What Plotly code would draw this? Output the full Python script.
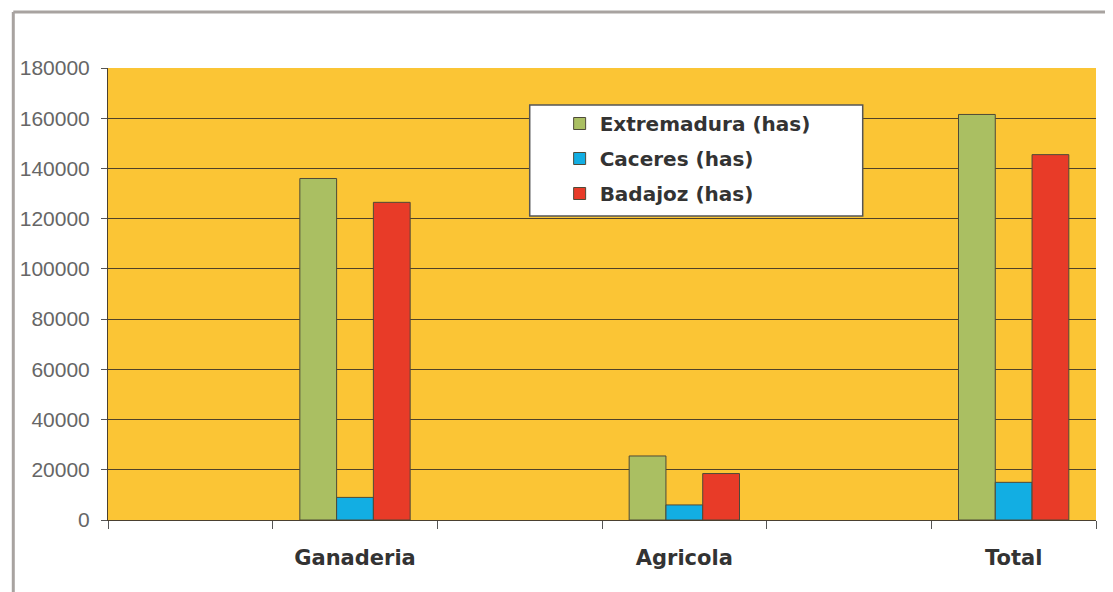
import plotly.graph_objects as go

categories = ["Ganaderia", "Agricola", "Total"]
series_names = ["Extremadura (has)", "Caceres (has)", "Badajoz (has)"]
extremadura = [136000, 25500, 161500]
caceres = [9000, 6000, 15000]
badajoz = [126500, 18500, 145500]
y_ticks = [0, 20000, 40000, 60000, 80000, 100000, 120000, 140000, 160000, 180000]

colors = ["#AABF62", "#12AEE3", "#E83B28"]

# the original chart has empty category slots before each labelled group
x_slots = []
for i, c in enumerate(categories):
    x_slots.append(" " * (i + 1))
    x_slots.append(c)


def expand(vals):
    out = []
    for v in vals:
        out.append(None)
        out.append(v)
    return out


fig = go.Figure()
for name, vals, col in zip(series_names, [extremadura, caceres, badajoz], colors):
    fig.add_trace(go.Bar(
        x=x_slots, y=expand(vals), name=name, legendgroup=name,
        marker=dict(color=col, line=dict(color="#4E4A38", width=1)),
    ))

# page offset of the body margin (8px) is compensated here
OFF = 8
PW, PH = 1113, 592          # page size
L, R, T, B = 105, 17, 68, 72  # page coords of plot area margins
W, H = PW - OFF, PH - OFF
l, t = L - OFF, T - OFF
pw, ph = PW - L - R, PH - T - B


def px(x):
    return (x - L) / pw


def py(y):
    return (PH - B - y) / ph


fig.update_layout(
    width=W, height=H,
    margin=dict(l=l, r=R, t=t, b=B),
    paper_bgcolor="white",
    plot_bgcolor="#FBC535",
    barmode="group",
    bargap=0.33,
    bargroupgap=0,
    showlegend=True,
    legend=dict(
        x=px(558), y=py(104), xanchor="left", yanchor="top",
        bgcolor="rgba(0,0,0,0)", borderwidth=0,
        font=dict(family="DejaVu Sans", size=20, color="#333333", weight="bold"),
        tracegroupgap=6,
        itemclick=False,
    ),
    xaxis=dict(
        type="category",
        tickson="boundaries",
        ticks="outside", ticklen=8, tickcolor="#555555",
        showline=True, linecolor="#4A4030", linewidth=1,
        showgrid=False,
        tickfont=dict(family="DejaVu Sans", size=21, color="#333333", weight="bold"),
        ticklabelstandoff=19,
    ),
    yaxis=dict(
        range=[0, 180000],
        tickvals=y_ticks,
        ticktext=[str(v) for v in y_ticks],
        ticks="outside", ticklen=6, tickcolor="#555555",
        showline=True, linecolor="#4A4030", linewidth=1,
        showgrid=True, gridcolor="#504228", gridwidth=1,
        zeroline=False,
        tickfont=dict(family="Liberation Sans", size=21, color="#666666"),
        ticklabelstandoff=7,
    ),
    font=dict(family="DejaVu Sans"),
    shapes=[
        dict(type="rect", xref="paper", yref="paper",
             x0=px(528), x1=px(862), y0=py(216), y1=py(105),
             fillcolor="white", line=dict(color="#555555", width=1.5), layer="above"),
        dict(type="line", xref="paper", yref="paper",
             x0=px(10), x1=px(PW + 5), y0=py(12), y1=py(12),
             line=dict(color="#A8A3A0", width=3)),
        dict(type="line", xref="paper", yref="paper",
             x0=px(10), x1=px(10), y0=py(12), y1=py(PH + 5),
             line=dict(color="#A8A3A0", width=3)),
    ],
)

fig.write_html("out.html")
